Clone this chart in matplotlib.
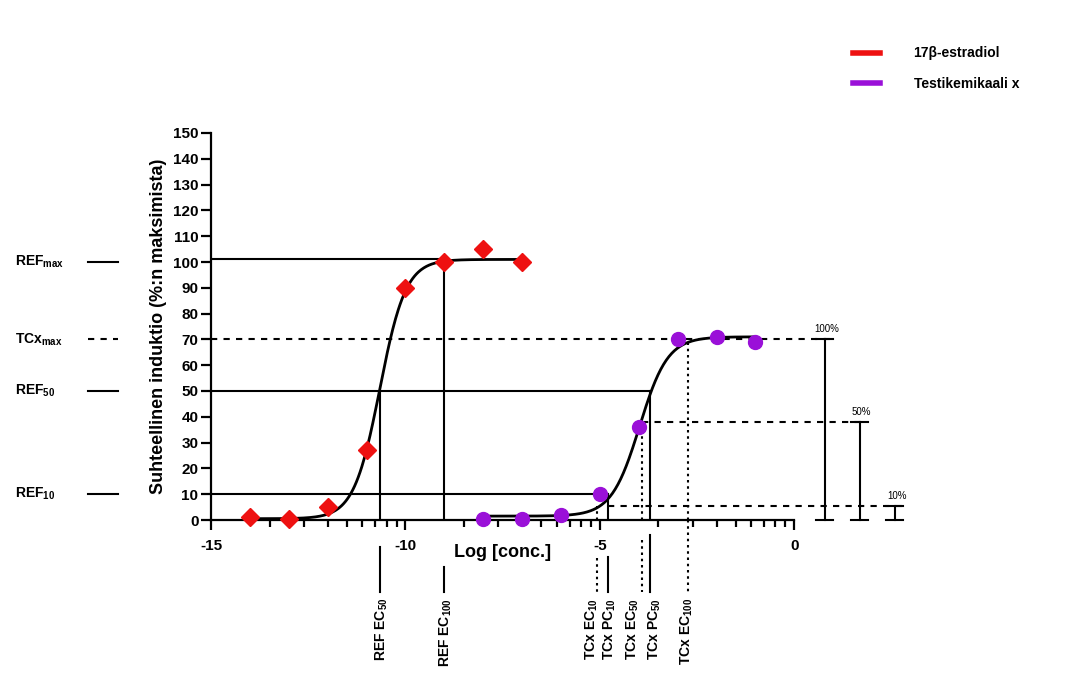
import numpy as np
import matplotlib
matplotlib.use("Agg")
import matplotlib.pyplot as plt
from matplotlib.lines import Line2D
from matplotlib import transforms

plt.rcParams['font.family'] = ['Liberation Sans', 'DejaVu Sans']
plt.rcParams['font.weight'] = 'bold'
plt.rcParams['axes.labelweight'] = 'bold'
plt.rcParams['axes.unicode_minus'] = False
plt.rcParams['mathtext.fontset'] = 'custom'
plt.rcParams['mathtext.rm'] = 'Liberation Sans:bold'
plt.rcParams['mathtext.default'] = 'rm'

# measured points
ref_x = [-14, -13, -12, -11, -10, -9, -8, -7]
ref_y = [1, 0.5, 5, 27, 90, 100, 105, 100]
tcx_x = [-8, -7, -6, -5, -4, -3, -2, -1]
tcx_y = [0.5, 0.5, 2, 10, 36, 70, 71, 69]

# fitted curve parameters (bottom, top, logEC50, hill)
ref_fit = (0.5, 101, -10.66, 1.3)
tcx_fit = (1.5, 71, -3.98, 1.2)

# reference levels
ref_levels = [101, 50, 10]
ref_level_ends = [-9, -3.71, -4.8]
tcx_max = 70

# concentrations marked on the x axis
ref_ec50, ref_ec100 = -10.66, -9.0
tcx_ec10, tcx_pc10, tcx_ec50, tcx_pc50, tcx_ec100 = -5.07, -4.8, -3.92, -3.71, -2.74

# effect brackets on the right
bracket_x = [0.78, 1.68, 2.58]
bracket_top = [70, 38, 5.5]
bracket_labels = ['100%', '50%', '10%']

red = '#ee1111'
purple = '#9a10d8'


def hill(x, bottom, top, logec50, h):
    return bottom + (top - bottom) / (1 + 10 ** ((logec50 - x) * h))


fig = plt.figure(figsize=(10.8, 6.88), dpi=100)
ax = fig.add_axes([211 / 1080, 1 - 520 / 688, 700 / 1080, 387 / 688])
ax.set_xlim(-15, 3.0)
ax.set_ylim(0, 150)

# horizontal reference lines
for lvl, end in zip(ref_levels, ref_level_ends):
    ax.plot([-15, end], [lvl, lvl], color='black', lw=1.5, zorder=2)
ax.plot([-15, bracket_x[0] + 0.2], [tcx_max, tcx_max], color='black', lw=1.5,
        dashes=(3, 3), zorder=2)
ax.plot([tcx_ec50, bracket_x[1] + 0.2], [bracket_top[1]] * 2, color='black', lw=1.5,
        dashes=(3, 3), zorder=2)
ax.plot([tcx_pc10, bracket_x[2] + 0.2], [bracket_top[2]] * 2, color='black', lw=1.5,
        dashes=(3, 3), zorder=2)

# vertical lines inside the plot
ax.plot([ref_ec50] * 2, [0, 50], color='black', lw=1.5)
ax.plot([ref_ec100] * 2, [0, ref_levels[0]], color='black', lw=1.5)
ax.plot([tcx_pc10] * 2, [0, 10], color='black', lw=1.5)
ax.plot([tcx_pc50] * 2, [0, 50], color='black', lw=1.5)
ax.plot([tcx_ec10] * 2, [0, bracket_top[2]], color='black', lw=1.5, dashes=(1.2, 1.8))
ax.plot([tcx_ec50] * 2, [0, bracket_top[1]], color='black', lw=1.5, dashes=(1.2, 1.8))
ax.plot([tcx_ec100] * 2, [0, tcx_max], color='black', lw=1.5, dashes=(1.2, 1.8))

# brackets
for bx, bt, bl in zip(bracket_x, bracket_top, bracket_labels):
    ax.plot([bx, bx], [0, bt], color='black', lw=1.5, clip_on=False)
    ax.plot([bx - 0.22, bx + 0.22], [bt, bt], color='black', lw=1.5, clip_on=False)
    ax.plot([bx - 0.22, bx + 0.22], [0, 0], color='black', lw=1.5, clip_on=False)
    ax.text(bx + 0.05, bt + 2, bl, fontsize=7, ha='center', va='bottom',
            fontweight='normal')

# curves and points
xr = np.linspace(ref_x[0], ref_x[-1], 300)
xt = np.linspace(tcx_x[0], tcx_x[-1], 300)
ax.plot(xr, hill(xr, *ref_fit), color='black', lw=2, zorder=4)
ax.plot(xt, hill(xt, *tcx_fit), color='black', lw=2, zorder=4)
ax.plot(ref_x, ref_y, 'D', color=red, ms=9, zorder=5, clip_on=False)
ax.plot(tcx_x, tcx_y, 'o', color=purple, ms=10, zorder=5, clip_on=False)

# axes styling
for s in ['top', 'right']:
    ax.spines[s].set_visible(False)
ax.spines['left'].set_linewidth(1.6)
ax.spines['bottom'].set_linewidth(1.6)
ax.spines['bottom'].set_bounds(-15, 0)
ax.set_yticks(np.arange(0, 151, 10))
ax.set_xticks([-15, -10, -5, 0])
minor = [m + 5 * np.log10(k) for m in (-15, -10, -5) for k in range(2, 10)]
ax.set_xticks(minor, minor=True)
ax.tick_params(axis='both', which='major', length=7, width=1.6, labelsize=11, pad=2)
ax.tick_params(axis='x', which='major', pad=7)
ax.tick_params(axis='x', which='minor', length=5, width=1.6)
ax.set_xlabel('Log [conc.]', fontsize=13)
ax.xaxis.set_label_coords(7.5 / 18, -0.062)
ax.set_ylabel('Suhteellinen induktio (%:n maksimista)', fontsize=13, labelpad=4)

# labels left of the y axis
tl = transforms.blended_transform_factory(fig.transFigure, ax.transData)
left_labels = ['REF$_{max}$', 'TCx$_{max}$', 'REF$_{50}$', 'REF$_{10}$']
left_levels = [100, 70, 50, 10]
left_styles = ['-', '--', '-', '-']
for lab, lv, ls in zip(left_labels, left_levels, left_styles):
    fig.text(15 / 1080, lv, lab, transform=tl, fontsize=10, va='center', ha='left')
    ln = Line2D([88 / 1080, 118 / 1080], [lv, lv], transform=tl, color='black',
                lw=1.5, linestyle=ls)
    if ls == '--':
        ln.set_dashes((3, 3))
    fig.add_artist(ln)

# labels below the x axis
tb = transforms.blended_transform_factory(ax.transData, fig.transFigure)
mark_x = [ref_ec50, ref_ec100, tcx_ec10, tcx_pc10, tcx_ec50, tcx_pc50, tcx_ec100]
mark_top = [547, 567, 558, 557, 540, 535, 520]
mark_dotted = [False, False, True, False, True, False, True]
mark_labels = ['REF EC$_{50}$', 'REF EC$_{100}$', 'TCx EC$_{10}$', 'TCx PC$_{10}$',
               'TCx EC$_{50}$', 'TCx PC$_{50}$', 'TCx EC$_{100}$']
label_x = [-10.60, -8.96, -5.21, -4.74, -4.15, -3.59, -2.76]
for mx, mt, md in zip(mark_x, mark_top, mark_dotted):
    ln = Line2D([mx, mx], [1 - mt / 688, 1 - 592 / 688], transform=tb, color='black',
                lw=1.5)
    if md:
        ln.set_dashes((1.2, 1.8))
    fig.add_artist(ln)
for lx, lab in zip(label_x, mark_labels):
    fig.text(lx, 1 - 598 / 688, lab, transform=tb, rotation=90, fontsize=10,
             ha='center', va='top')

# legend
handles = [Line2D([], [], color=red, lw=4), Line2D([], [], color=purple, lw=4)]
fig.legend(handles, ['17β-estradiol', 'Testikemikaali x'], loc='upper left',
           bbox_to_anchor=(840 / 1080, 1 - 34 / 688), frameon=False, fontsize=10,
           handlelength=2.0, handletextpad=2.4, labelspacing=1.2)

fig.savefig('out.png', dpi=100)
